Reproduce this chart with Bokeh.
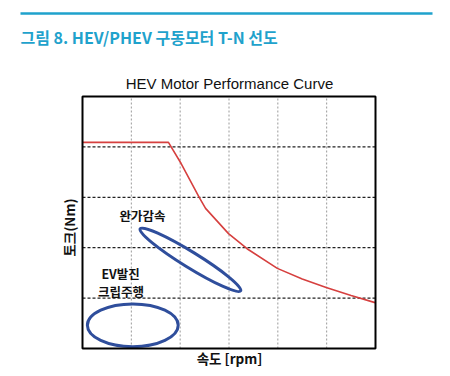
import math
from bokeh.plotting import figure
from bokeh.models import Range1d
from bokeh.embed import file_html
from bokeh.resources import INLINE
from bokeh.core.properties import value

# ---- data ----
speed = [0.0, 1.76, 2.02, 2.39, 2.52, 2.99, 3.37, 3.99, 4.5, 4.99, 5.5, 5.99]
torque = [4.09, 4.09, 3.67, 3.0, 2.78, 2.28, 1.98, 1.59, 1.38, 1.21, 1.05, 0.91]

region_x = [2.21, 1.03]
region_y = [1.76, 0.46]
region_w = [2.42, 1.86]
region_h = [0.31, 0.85]
region_angle = [-0.553, 0.0]

label_text = ["완가감속", "EV발진", "크립주행"]
label_x = [1.23, 0.78, 0.79]
label_y = [2.64, 1.49, 1.13]

x_min, x_max = 0, 6
y_min, y_max = 0, 5
x_grid = [1, 2, 3, 4, 5]
y_grid = [1, 2, 3, 4]

header_text = "그림 8. HEV/PHEV 구동모터 T-N 선도"
chart_title = "HEV Motor Performance Curve"
x_label = "속도 [rpm]"
y_label = "토크(Nm)"

# ---- layout (pixels) ----
W, H = 450, 376
L, R, T, B = 82, 375, 96, 348
KR = "Noto Sans CJK KR"
TEAL = "#1fa2cc"

kx = (x_max - x_min) / (R - L)
ky = (y_max - y_min) / (B - T)
xr = Range1d(x_min - L * kx, x_max + (W - R) * kx)
yr = Range1d(y_min - (H - B) * ky, y_max + T * ky)

p = figure(width=W, height=H, x_range=xr, y_range=yr,
           output_backend="svg", toolbar_location=None,
           min_border=0, min_border_left=0, min_border_right=0,
           min_border_top=0, min_border_bottom=0)
p.extra_x_ranges = {"px": Range1d(0, W)}
p.extra_y_ranges = {"px": Range1d(H, 0)}
p.axis.visible = False
p.grid.visible = False
p.outline_line_color = None
p.background_fill_color = "white"

# header
p.segment(x0=[20], y0=[13], x1=[432], y1=[13], line_color=TEAL, line_width=2.5,
          x_range_name="px", y_range_name="px")
p.text(x=[20], y=[36], text=[header_text], text_font=value(KR), text_font_style="bold",
       text_font_size="16px", text_color=TEAL, text_baseline="middle", text_align="left",
       x_range_name="px", y_range_name="px")

# chart title
p.text(x=[(L + R) / 2 + 0.5], y=[83], text=[chart_title], text_font=value("Liberation Sans"),
       text_font_size="15px", text_color="#111111", text_baseline="middle", text_align="center",
       x_range_name="px", y_range_name="px")

# grid lines
p.segment(x0=x_grid, y0=[y_min] * len(x_grid), x1=x_grid, y1=[y_max] * len(x_grid),
          line_color="#9a9a9a", line_dash="2 2", line_width=1)
p.segment(x0=[x_min] * len(y_grid), y0=y_grid, x1=[x_max] * len(y_grid), y1=y_grid,
          line_color="#222222", line_dash="3 2", line_width=1.2)

# torque curve
p.line(speed, torque, line_color="#d6403f", line_width=1.6)

# operating regions
p.ellipse(x=region_x, y=region_y, width=region_w, height=region_h, angle=region_angle,
          fill_color=None, line_color="#2f4e9c", line_width=3)

p.text(x=label_x, y=label_y, text=label_text, text_font=value(KR), text_font_style="bold",
       text_font_size="12.5px", text_color="#111111", text_align="center", text_baseline="middle")

# frame
p.quad(left=[x_min], right=[x_max], bottom=[y_min], top=[y_max],
       fill_color=None, line_color="black", line_width=2)

# axis labels
p.text(x=[229], y=[357], text=[x_label], text_font=value(KR), text_font_style="bold",
       text_font_size="13.5px", text_color="#111111", text_align="center", text_baseline="middle",
       x_range_name="px", y_range_name="px")
p.text(x=[68], y=[227], text=[y_label], text_font=value(KR), text_font_style="bold",
       text_font_size="13.5px", text_color="#111111", text_align="center", text_baseline="middle",
       angle=math.pi / 2, x_range_name="px", y_range_name="px")

open("out.html", "w").write(file_html(p, INLINE))
